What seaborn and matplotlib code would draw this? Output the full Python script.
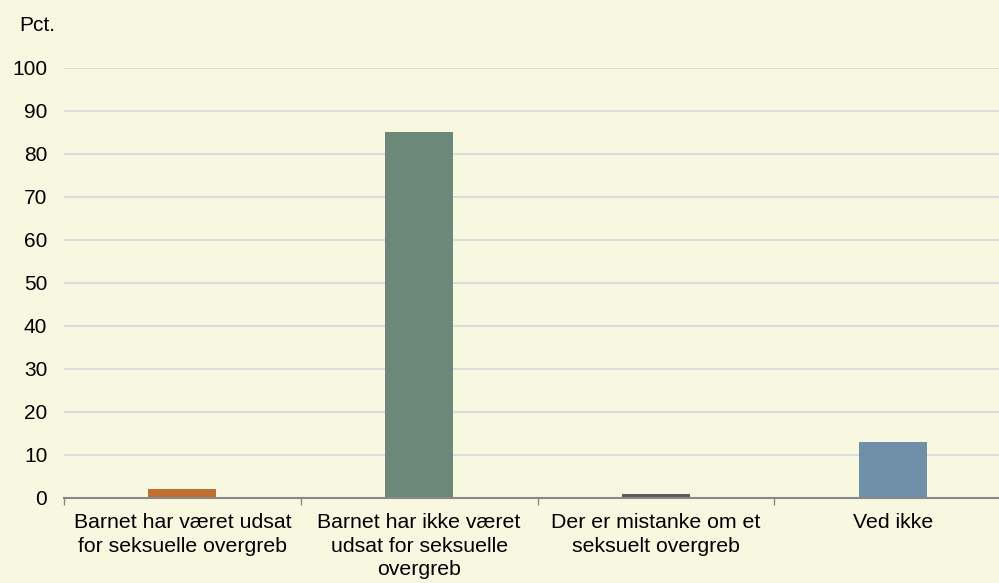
import seaborn as sns
import matplotlib.pyplot as plt
import pandas as pd

categories = [
    "Barnet har været udsat\nfor seksuelle overgreb",
    "Barnet har ikke været\nudsat for seksuelle\novergreb",
    "Der er mistanke om et\nseksuelt overgreb",
    "Ved ikke",
]
values = [2, 85, 1, 13]
colors = ["#C07030", "#6B8878", "#5A5A5A", "#7090AA"]
yticks = [0, 10, 20, 30, 40, 50, 60, 70, 80, 90, 100]

df = pd.DataFrame({"kategori": categories, "pct": values})

bg = "#F8F8E1"
plt.rcParams["font.family"] = ["Liberation Sans", "DejaVu Sans"]

fig = plt.figure(figsize=(9.99, 5.83), dpi=100, facecolor=bg)
ax = fig.add_axes([0.0641, 0.1458, 0.948, 0.7376])
ax.set_facecolor(bg)

sns.barplot(data=df, x="kategori", y="pct", hue="kategori", palette=colors,
            width=0.287, legend=False, saturation=1, ax=ax)

ax.set_ylim(0, 100)
ax.set_xlim(-0.5, 3.5)
ax.set_yticks(yticks)
ax.yaxis.grid(True, color="#DCDCDC", linewidth=1.5)
ax.set_axisbelow(True)
for s in ["top", "right", "left"]:
    ax.spines[s].set_visible(False)
ax.spines["bottom"].set_color("#888888")
ax.spines["bottom"].set_linewidth(1.5)

ax.set_xticks(range(len(categories)))
ax.set_xticklabels(categories, fontsize=15.3, linespacing=1.3)
ax.set_xticks([-0.5, 0.5, 1.5, 2.5], minor=True)
ax.tick_params(axis="x", which="major", length=0, pad=11)
ax.tick_params(axis="x", which="minor", length=5, color="#888888", width=1)
ax.tick_params(axis="y", length=0, pad=12, labelsize=15)
ax.set_xlabel("")
ax.set_ylabel("")

fig.text(0.019, 0.957, "Pct.", fontsize=15, ha="left", va="center")

plt.savefig("out.png", dpi=100, facecolor=bg)
